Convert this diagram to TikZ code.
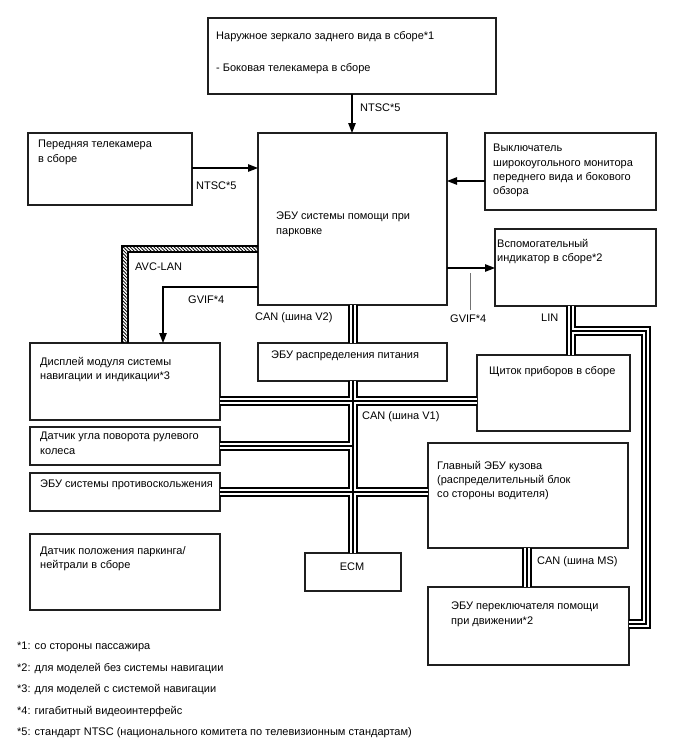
\documentclass[tikz,border=0pt]{standalone}
\usepackage{fontspec}
\setmainfont{Liberation Sans}
\usetikzlibrary{arrows.meta,patterns.meta}
\begin{document}
\begin{tikzpicture}[x=1pt,y=-1pt,
  box/.style={draw=black!88, line width=1.3pt, anchor=north west, inner sep=0pt, outer sep=0pt},
  txt/.style={anchor=north west, inner sep=0pt, align=left, font=\fontsize{11}{14.3}\selectfont},
  lbl/.style={anchor=west, inner sep=0pt, font=\fontsize{11}{14.3}\selectfont},
  arr/.style={line width=1.2pt, -{Triangle[length=10pt,width=7.5pt]}},
  busA/.style={line width=10pt, black},
  busB/.style={line width=5.4pt, white},
  busC/.style={line width=1.9pt, black},
  hatch/.style={pattern={Lines[angle=-45,distance=2.4pt,line width=0.8pt]}},
]
\useasboundingbox (0,0) rectangle (688,755);

% boxes
\node[box, minimum width=288pt, minimum height=76pt] (mirror) at (208,18) {};
\node[box, minimum width=164pt, minimum height=72pt] (fcam) at (28,133) {};
\node[box, minimum width=189pt, minimum height=172pt] (pecu) at (258,133) {};
\node[box, minimum width=171pt, minimum height=77pt] (sw) at (485,133) {};
\node[box, minimum width=161pt, minimum height=77pt] (ind) at (495,229) {};
\node[box, minimum width=190pt, minimum height=77pt] (disp) at (30,343) {};
\node[box, minimum width=190pt, minimum height=38pt] (steer) at (30,427) {};
\node[box, minimum width=190pt, minimum height=38pt] (anti) at (30,473) {};
\node[box, minimum width=190pt, minimum height=76pt] (pns) at (30,534) {};
\node[box, minimum width=96pt, minimum height=38pt] (ecm) at (305,553) {};
\node[box, minimum width=189pt, minimum height=38pt] (pdu) at (258,343) {};
\node[box, minimum width=153pt, minimum height=76pt] (cluster) at (477,355) {};
\node[box, minimum width=200pt, minimum height=105pt] (body) at (428,443) {};
\node[box, minimum width=201pt, minimum height=78pt] (dsw) at (428,587) {};

% named points for buses
\coordinate (v2a) at (353,0 |- pecu.south);
\coordinate (v2b) at (353,0 |- pdu.north);
\coordinate (v1a) at (353,0 |- pdu.south);
\coordinate (v1b) at (353,0 |- ecm.north);
\coordinate (h1a) at (disp.east |- 0,401);
\coordinate (h1b) at (cluster.west |- 0,401);
\coordinate (h2b) at (353,0 |- steer.east);
\coordinate (h3b) at (body.west |- anti.east);
\coordinate (msa) at (527,0 |- body.south);
\coordinate (msb) at (527,0 |- dsw.north);
\coordinate (lina) at (571,0 |- ind.south);
\coordinate (linb) at (571,0 |- cluster.north);
\coordinate (linc) at (571,331);
\coordinate (lind) at (646,331);
\coordinate (line) at (646,624);
\coordinate (linf) at (dsw.east |- 0,624);

\foreach \s in {busA,busB,busC}{
  \draw[\s] (v2a) -- (v2b);
  \draw[\s] (v1a) -- (v1b);
  \draw[\s] (h1a) -- (h1b);
  \draw[\s] (steer.east) -- (h2b);
  \draw[\s] (anti.east) -- (h3b);
  \draw[\s] (msa) -- (msb);
  \draw[\s] (lina) -- (linb);
  \draw[\s] (linc) -- (lind) -- (line) -- (linf);
}

% AVC-LAN hatched connector
\coordinate (av1) at (122,0 |- disp.north);
\coordinate (av2) at (122,246);
\coordinate (av3) at (pecu.west |- 0,246);
\coordinate (av4) at (pecu.west |- 0,252);
\coordinate (av5) at (128,252);
\coordinate (av6) at (128,0 |- disp.north);
\fill[hatch] (av1) -- (av2) -- (av3) -- (av4) -- (av5) -- (av6) -- cycle;
\draw[line width=1.2pt] (av1) -- (av2) -- (av3);
\draw[line width=1.2pt] (av6) -- (av5) -- (av4);

% arrows
\draw[arr] (mirror.south) -- (mirror.south |- pecu.north);
\draw[arr] (fcam.east |- 0,168) -- (pecu.west |- 0,168);
\draw[arr] (sw.west |- 0,181) -- (pecu.east |- 0,181);
\draw[arr] (pecu.east |- 0,268) -- (ind.west |- 0,268);
\coordinate (gv) at (163,287);
\draw[arr] (pecu.west |- gv) -- (gv) -- (gv |- disp.north);
\coordinate (ld1) at (470,273);
\coordinate (ld2) at (470,310);
\draw[black!55, line width=1pt] (ld1) -- (ld2);

% box texts
\node[txt] (t1) at (216,31) {Наружное зеркало заднего вида в сборе*1};
\node[txt] (t2) at (216,63) {- Боковая телекамера в сборе};
\node[txt] (t3) at (38,140) {Передняя телекамера\\в сборе};
\node[txt] (t4) at (276,212) {ЭБУ системы помощи при\\парковке};
\node[txt] (t5) at (493,144) {Выключатель\\широкоугольного монитора\\переднего вида и бокового\\обзора};
\node[txt] (t6) at (497,239) {Вспомогательный\\индикатор в сборе*2};
\node[txt] (t7) at (40,357) {Дисплей модуля системы\\навигации и индикации*3};
\node[txt] (t8) at (40,432) {Датчик угла поворота рулевого\\колеса};
\node[txt] (t9) at (40,480) {ЭБУ системы противоскольжения};
\node[txt] (t10) at (40,546) {Датчик положения паркинга/\\нейтрали в сборе};
\node[lbl, anchor=center] (t11) at (352,567) {ECM};
\node[txt] (t12) at (271,351) {ЭБУ распределения питания};
\node[txt] (t13) at (489,366) {Щиток приборов в сборе};
\node[txt] (t14) at (437,461) {Главный ЭБУ кузова\\(распределительный блок\\со стороны водителя)};
\node[txt] (t15) at (451,602) {ЭБУ переключателя помощи\\при движении*2};

% connector labels
\node[lbl] (l1) at (360,108) {NTSC*5};
\node[lbl] (l2) at (196,186) {NTSC*5};
\node[lbl] (l3) at (135,267) {AVC-LAN};
\node[lbl] (l4) at (188,300) {GVIF*4};
\node[lbl] (l5) at (255,318) {CAN (шина V2)};
\node[lbl] (l6) at (450,319) {GVIF*4};
\node[lbl] (l7) at (541,318) {LIN};
\node[lbl] (l8) at (362,417) {CAN (шина V1)};
\node[lbl] (l9) at (537,562) {CAN (шина MS)};

% footnotes
\node[lbl] (f1) at (17,647) {*1: со стороны пассажира};
\node[lbl] (f2) at (17,668.5) {*2: для моделей без системы навигации};
\node[lbl] (f3) at (17,690) {*3: для моделей с системой навигации};
\node[lbl] (f4) at (17,711.5) {*4: гигабитный видеоинтерфейс};
\node[lbl] (f5) at (17,733) {*5: стандарт NTSC (национального комитета по телевизионным стандартам)};
\end{tikzpicture}
\end{document}
